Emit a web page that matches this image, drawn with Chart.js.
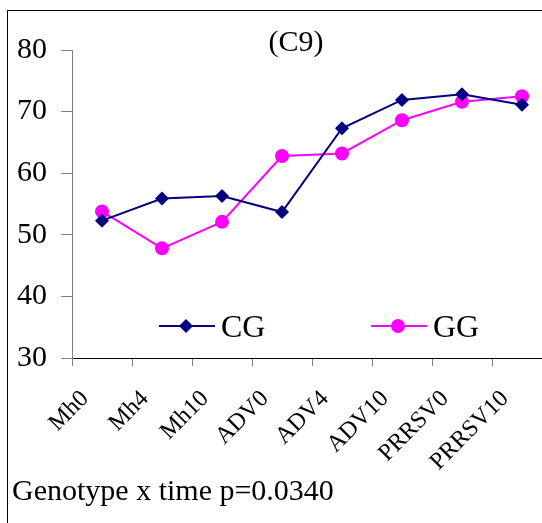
<!DOCTYPE html>
<html>
<head>
<meta charset="utf-8">
<script src="https://cdn.jsdelivr.net/npm/chart.js@4.4.0/dist/chart.umd.min.js"></script>
<style>
  html, body { margin: 0; padding: 0; background: #fff; overflow: hidden; }
  body { width: 542px; height: 523px; position: relative; font-family: "Liberation Serif", "DejaVu Serif", serif; }
  #frame {
    position: absolute; left: 7px; top: 10px; width: 600px; height: 600px;
    border-left: 1px solid #000; border-top: 1px solid #000;
  }
  #chart { position: absolute; left: 0; top: 0; }
  #warm { position: absolute; left: -999px; top: 0; font-family: "Liberation Serif"; }
</style>
</head>
<body>
<div id="frame"></div>
<div id="warm">Mh0 CG GG 80</div>
<canvas id="chart" width="600" height="523"></canvas>
<script>
// Chart data
const categories = ["Mh0", "Mh4", "Mh10", "ADV0", "ADV4", "ADV10", "PRRSV0", "PRRSV10"];
const cgValues = [52.3, 55.9, 56.3, 53.7, 67.3, 71.9, 72.8, 71.1];
const ggValues = [53.8, 47.8, 52.1, 62.8, 63.2, 68.6, 71.6, 72.5];
const yTicks = [30, 40, 50, 60, 70, 80];

const serif = "Liberation Serif";
const navy = "#000080";
const magenta = "#FF00FF";

// Title, in-plot legend and the footnote
const extrasPlugin = {
  id: "extras",
  afterDraw(chart) {
    const ctx = chart.ctx;
    ctx.save();
    ctx.fillStyle = "#000";

    // title
    ctx.font = "30px '" + serif + "'";
    ctx.textAlign = "center";
    ctx.textBaseline = "alphabetic";
    ctx.fillText("(C9)", 296, 51);

    // legend
    const legendY = 326;
    const items = [
      { label: "CG", color: navy, x: 159, style: "diamond" },
      { label: "GG", color: magenta, x: 371, style: "circle" },
    ];
    items.forEach((it) => {
      ctx.strokeStyle = it.color;
      ctx.lineWidth = 2;
      ctx.beginPath();
      ctx.moveTo(it.x, legendY);
      ctx.lineTo(it.x + 56, legendY);
      ctx.stroke();
      const cx = it.x + 27;
      ctx.fillStyle = it.color;
      ctx.beginPath();
      if (it.style === "diamond") {
        ctx.moveTo(cx, legendY - 7);
        ctx.lineTo(cx + 7, legendY);
        ctx.lineTo(cx, legendY + 7);
        ctx.lineTo(cx - 7, legendY);
        ctx.closePath();
      } else {
        ctx.arc(cx, legendY, 7, 0, Math.PI * 2);
      }
      ctx.fill();
      ctx.fillStyle = "#000";
      ctx.font = "32px '" + serif + "'";
      ctx.textAlign = "left";
      ctx.textBaseline = "alphabetic";
      ctx.fillText(it.label, it.x + 62, legendY + 11);
    });

    // footnote
    ctx.font = "30px '" + serif + "'";
    ctx.textAlign = "left";
    ctx.fillText("Genotype x time p=0.0340", 12, 500);
    ctx.restore();
  },
};

function drawChart() {
  const ctx = document.getElementById("chart").getContext("2d");
  new Chart(ctx, {
    type: "line",
    data: {
      labels: categories,
      datasets: [
        {
          label: "CG",
          data: cgValues,
          borderColor: navy,
          backgroundColor: navy,
          borderWidth: 2,
          pointStyle: "rectRot",
          pointRadius: 7,
          pointBorderWidth: 0,
          tension: 0,
        },
        {
          label: "GG",
          data: ggValues,
          borderColor: magenta,
          backgroundColor: magenta,
          borderWidth: 2,
          pointStyle: "circle",
          pointRadius: 7,
          pointBorderWidth: 0,
          tension: 0,
        },
      ],
    },
    options: {
      responsive: false,
      animation: false,
      devicePixelRatio: 1,
      layout: { padding: { top: 50, left: 0, right: 48, bottom: 0 } },
      plugins: {
        legend: { display: false },
        title: { display: false },
        tooltip: { enabled: false },
      },
      scales: {
        x: {
          type: "category",
          offset: true,
          grid: { offset: true, drawOnChartArea: false, tickLength: 8, color: "#808080" },
          border: { color: "#000", width: 1 },
          ticks: {
            color: "#000",
            font: { family: serif, size: 24 },
            minRotation: 45,
            maxRotation: 45,
            padding: 19,
            labelOffset: -17,
            autoSkip: false,
          },
          afterFit: (s) => { s.height = 165; },
        },
        y: {
          min: 30,
          max: 80,
          afterBuildTicks: (s) => { s.ticks = yTicks.map((v) => ({ value: v })); },
          grid: { drawOnChartArea: false, tickLength: 11, color: "#808080" },
          border: { color: "#808080", width: 1 },
          ticks: {
            color: "#000",
            font: { family: serif, size: 30 },
            padding: 14,
          },
          afterFit: (s) => { s.width = 72; },
        },
      },
    },
    plugins: [extrasPlugin],
  });
}

if (document.fonts && document.fonts.load) {
  Promise.all([
    document.fonts.load("30px 'Liberation Serif'"),
  ]).then(drawChart, drawChart);
} else {
  drawChart();
}
</script>
</body>
</html>
